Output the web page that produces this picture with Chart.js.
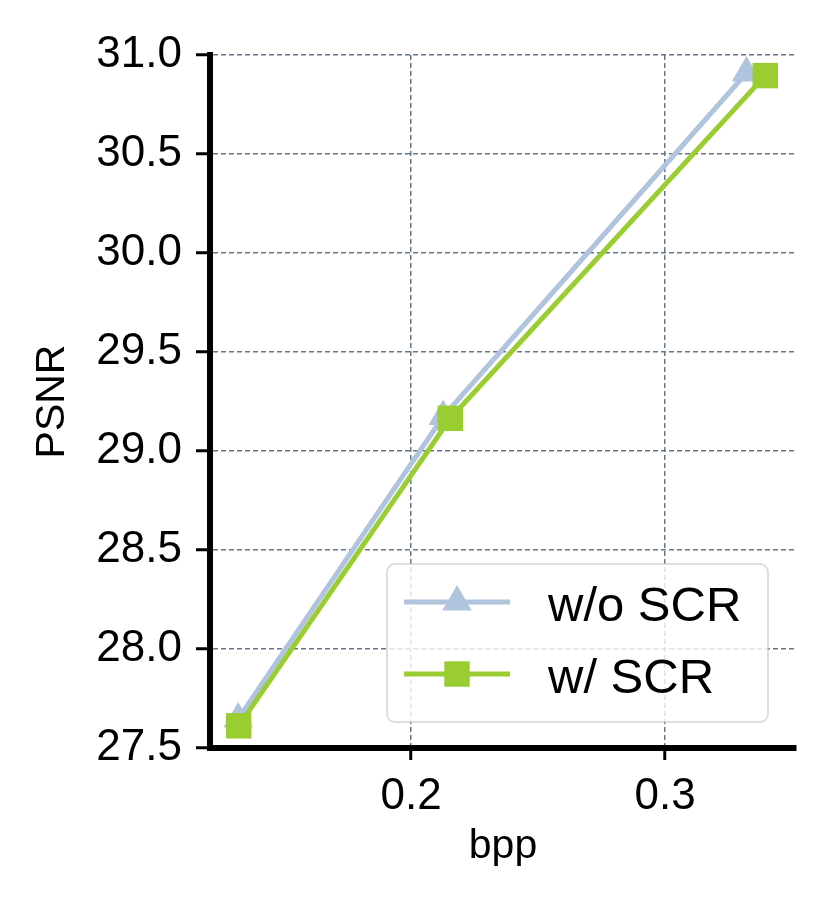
<!DOCTYPE html>
<html>
<head>
<meta charset="utf-8">
<title>PSNR vs bpp</title>
<script src="https://cdn.jsdelivr.net/npm/chart.js@4.4.1/dist/chart.umd.min.js"></script>
<style>
  html, body { margin: 0; padding: 0; background: #fff; }
  #wrap { width: 832px; height: 910px; }
</style>
</head>
<body>
<div id="wrap"><canvas id="chart" width="832" height="910"></canvas></div>
<script>
// valores
const seriesNames = ['w/o SCR', 'w/ SCR'];
const bppWithout = [0.1319, 0.2126, 0.3320];
const psnrWithout = [27.647, 29.174, 30.909];
const bppWith = [0.1321, 0.2154, 0.3394];
const psnrWith = [27.612, 29.165, 30.896];
const xTicks = [0.2, 0.3];
const yTicks = [27.5, 28.0, 28.5, 29.0, 29.5, 30.0, 30.5, 31.0];

const FONT = '"Liberation Sans", Arial, Helvetica, sans-serif';
const BLUE = '#B0C4DE';
const GREEN = '#9ACD32';
const GRID = '#66778a';

function toPoints(xs, ys) {
    return xs.map((x, i) => ({ x: x, y: ys[i] }));
}

function drawMarker(ctx, style, x, y, r, color) {
    ctx.fillStyle = color;
    ctx.beginPath();
    if (style === 'triangle') {
        ctx.moveTo(x, y - r);
        ctx.lineTo(x + r * 0.866, y + r * 0.5);
        ctx.lineTo(x - r * 0.866, y + r * 0.5);
    } else {
        const s = r * Math.SQRT1_2;
        ctx.rect(x - s, y - s, 2 * s, 2 * s);
    }
    ctx.closePath();
    ctx.fill();
}

// legenda desenhada dentro da area do grafico
const legendBox = {
    id: 'legendBox',
    afterDraw(chart) {
        const ctx = chart.ctx;
        const a = chart.chartArea;
        const bw = 381, bh = 158;
        const bx = a.right - 409, by = a.bottom - 184;
        ctx.save();
        ctx.beginPath();
        ctx.roundRect(bx, by, bw, bh, 8);
        ctx.fillStyle = 'rgba(255,255,255,0.8)';
        ctx.fill();
        ctx.lineWidth = 2;
        ctx.strokeStyle = 'rgba(200,200,200,0.6)';
        ctx.stroke();

        chart.data.datasets.forEach((ds, i) => {
            const y = by + 38 + i * 72;
            ctx.strokeStyle = ds.borderColor;
            ctx.lineWidth = ds.borderWidth;
            ctx.beginPath();
            ctx.moveTo(bx + 17, y);
            ctx.lineTo(bx + 123, y);
            ctx.stroke();
            drawMarker(ctx, ds.pointStyle, bx + 70, y, ds.pointRadius, ds.backgroundColor);
            ctx.fillStyle = '#000';
            ctx.font = '49px ' + FONT;
            ctx.textAlign = 'left';
            ctx.textBaseline = 'middle';
            ctx.fillText(ds.label, bx + 161, y + 5);
        });
        ctx.restore();
    }
};

const ctx = document.getElementById('chart').getContext('2d');

new Chart(ctx, {
    type: 'scatter',
    data: {
        datasets: [
            {
                label: seriesNames[0],
                data: toPoints(bppWithout, psnrWithout),
                borderColor: BLUE,
                backgroundColor: BLUE,
                borderWidth: 5,
                showLine: true,
                pointStyle: 'triangle',
                pointRadius: 17,
                pointBorderWidth: 0,
                order: 2,
                clip: false
            },
            {
                label: seriesNames[1],
                data: toPoints(bppWith, psnrWith),
                borderColor: GREEN,
                backgroundColor: GREEN,
                borderWidth: 5,
                showLine: true,
                pointStyle: 'rect',
                pointRadius: 18,
                pointBorderWidth: 0,
                order: 1,
                clip: false
            }
        ]
    },
    options: {
        responsive: false,
        animation: false,
        devicePixelRatio: 1,
        layout: { padding: { left: 0, right: 36, top: 55, bottom: 0 } },
        plugins: {
            legend: { display: false },
            tooltip: { enabled: false }
        },
        scales: {
            x: {
                type: 'linear',
                position: 'bottom',
                min: 0.1208,
                max: 0.3515,
                afterBuildTicks: s => { s.ticks = xTicks.map(v => ({ value: v })); },
                afterFit: s => { s.height = 162; },
                ticks: {
                    color: '#000',
                    padding: 10,
                    font: { family: FONT, size: 44 },
                    callback: v => v.toFixed(1)
                },
                grid: {
                    color: GRID,
                    lineWidth: 1.5,
                    tickColor: '#000',
                    tickWidth: 3,
                    tickLength: 12,
                    tickBorderDash: []
                },
                border: { color: '#000', width: 6, dash: [5, 3] },
                title: {
                    display: true,
                    text: 'bpp',
                    color: '#000',
                    font: { family: FONT, size: 41, lineHeight: 1 },
                    padding: { top: 0, bottom: 43 }
                }
            },
            y: {
                type: 'linear',
                min: 27.5,
                max: 31.0,
                afterBuildTicks: s => { s.ticks = yTicks.map(v => ({ value: v })); },
                afterFit: s => { s.width = 210; },
                ticks: {
                    color: '#000',
                    padding: 14,
                    font: { family: FONT, size: 44 },
                    callback: v => v.toFixed(1)
                },
                grid: {
                    color: GRID,
                    lineWidth: 1.5,
                    tickColor: '#000',
                    tickWidth: 3,
                    tickLength: 14,
                    tickBorderDash: []
                },
                border: { color: '#000', width: 6, dash: [5, 3] },
                title: {
                    display: true,
                    text: 'PSNR',
                    color: '#000',
                    font: { family: FONT, size: 41, lineHeight: 1 },
                    padding: { top: 32, bottom: 0 }
                }
            }
        }
    },
    plugins: [legendBox]
});
</script>
</body>
</html>
